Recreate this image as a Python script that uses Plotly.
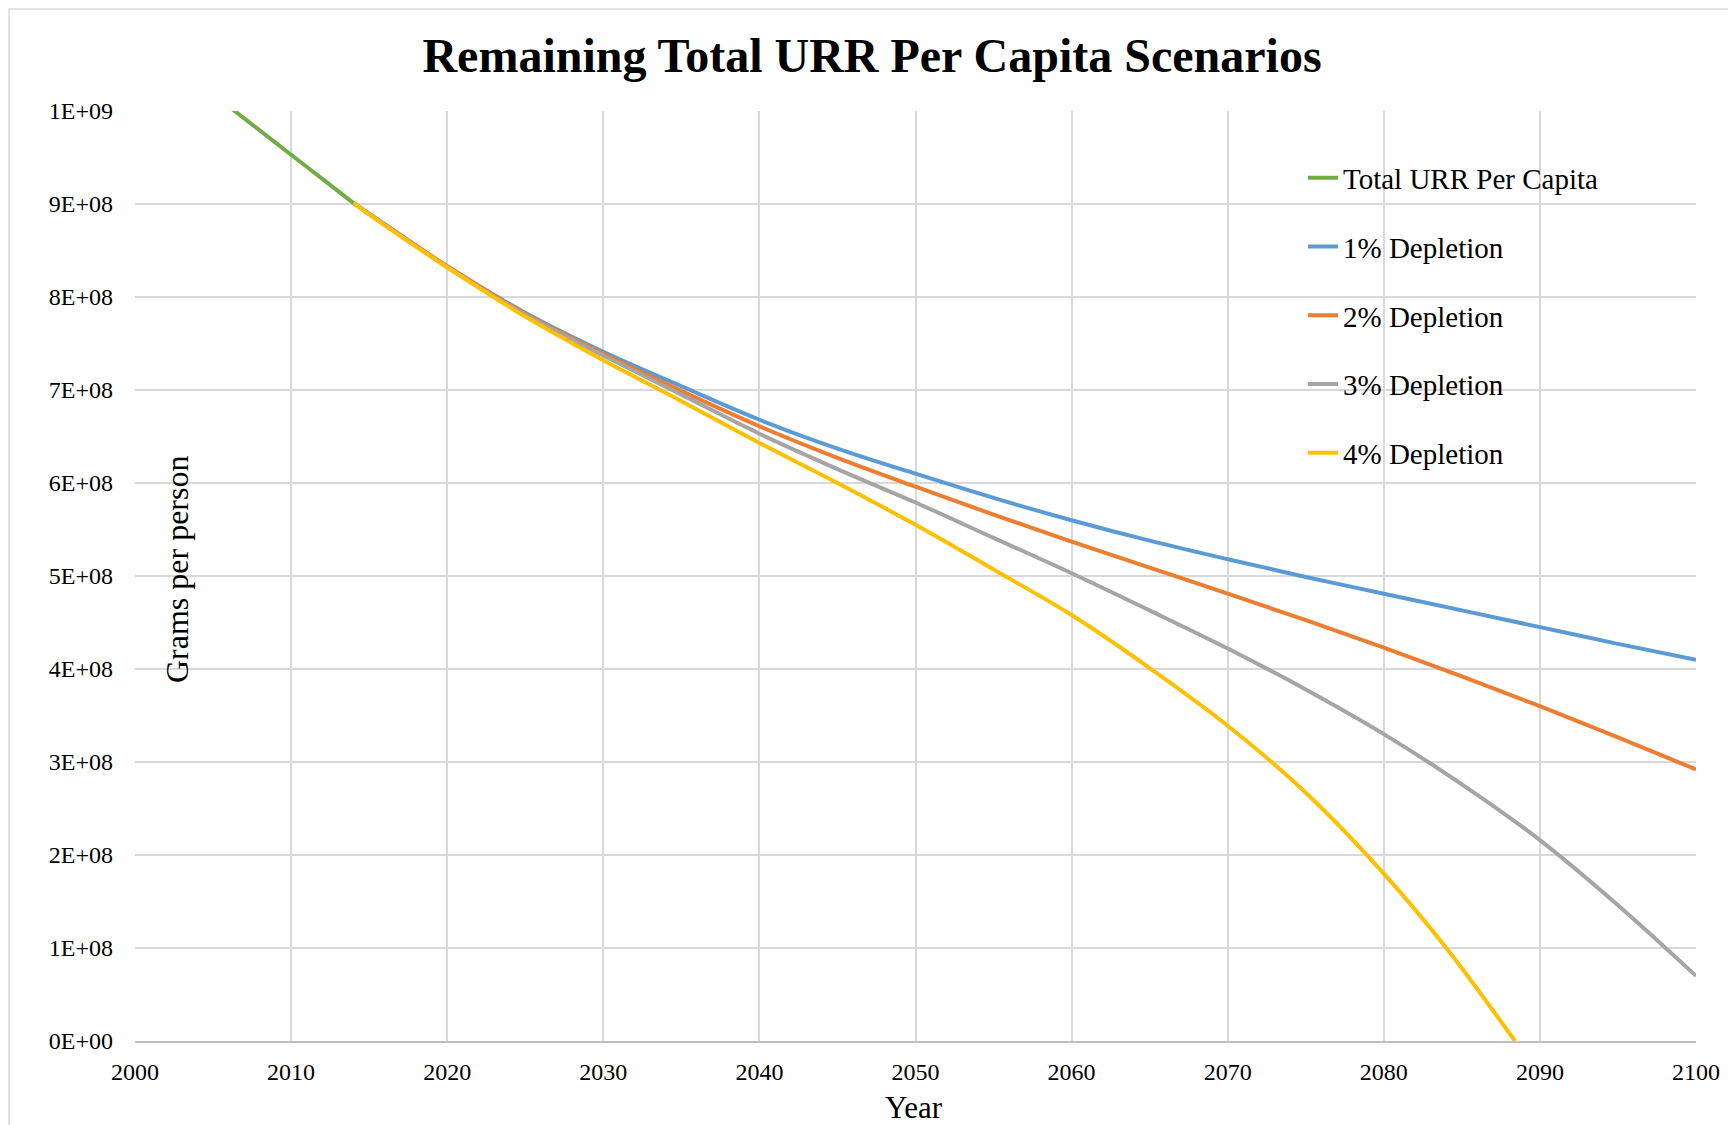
import plotly.graph_objects as go

# ---- data (values in grams per person) ----
green_years = [2006, 2008, 2010, 2012, 2014]
green_vals = [10.05e8, 9.79e8, 9.53e8, 9.27e8, 9.01e8]

scen_years = [2014, 2016, 2020, 2025, 2030, 2035, 2040, 2045, 2050, 2055, 2060,
              2065, 2070, 2075, 2080, 2085, 2090, 2095, 2100]
dep1 = [9.01e8, 8.78e8, 8.33e8, 7.83e8, 7.41e8, 7.04e8, 6.68e8, 6.37e8, 6.10e8, 5.84e8, 5.60e8,
        5.38e8, 5.18e8, 4.99e8, 4.81e8, 4.63e8, 4.45e8, 4.27e8, 4.10e8]
dep2 = [9.01e8, 8.78e8, 8.33e8, 7.82e8, 7.39e8, 6.99e8, 6.61e8, 6.27e8, 5.96e8, 5.66e8, 5.37e8,
        5.09e8, 4.81e8, 4.525e8, 4.23e8, 3.92e8, 3.60e8, 3.265e8, 2.92e8]
dep3 = [9.01e8, 8.78e8, 8.32e8, 7.81e8, 7.37e8, 6.95e8, 6.53e8, 6.15e8, 5.79e8, 5.41e8, 5.03e8,
        4.63e8, 4.22e8, 3.78e8, 3.30e8, 2.76e8, 2.16e8, 1.46e8, 0.70e8]
dep4_years = [2014, 2016, 2020, 2025, 2030, 2035, 2040, 2045, 2050, 2055, 2060,
              2065, 2070, 2075, 2080, 2084, 2088.4]
dep4 = [9.01e8, 8.77e8, 8.32e8, 7.79e8, 7.32e8, 6.88e8, 6.43e8, 6.00e8, 5.55e8, 5.07e8, 4.58e8,
        4.01e8, 3.39e8, 2.67e8, 1.80e8, 1.00e8, 0.0]

series_names = ["Total URR Per Capita", "1% Depletion", "2% Depletion",
                "3% Depletion", "4% Depletion"]
series_colors = ["#70AD47", "#5B9BD5", "#ED7D31", "#A5A5A5", "#FFC000"]

y_tickvals = [0, 1e8, 2e8, 3e8, 4e8, 5e8, 6e8, 7e8, 8e8, 9e8, 1e9]
y_ticktext = ["0E+00", "1E+08", "2E+08", "3E+08", "4E+08", "5E+08",
              "6E+08", "7E+08", "8E+08", "9E+08", "1E+09"]
x_tickvals = list(range(2000, 2101, 10))

FONT = "Liberation Serif, Times New Roman, serif"

fig = go.Figure()
xs = [green_years, scen_years, scen_years, scen_years, dep4_years]
ys = [green_vals, dep1, dep2, dep3, dep4]
for i in range(5):
    fig.add_trace(go.Scatter(
        x=xs[i], y=ys[i], mode="lines", name=series_names[i],
        line=dict(color=series_colors[i], width=4, shape="spline", smoothing=1.0),
        legendgroup=f"g{i}",
    ))

# the page body adds an 8px margin, so the figure is 8px smaller
W, H = 1728, 1117
L, R, T, B = 127, 40, 103, 84
pw, ph = W - L - R, H - T - B

def px(x):
    return (x - L) / pw

def py(y):
    return (H - B - y) / ph

fig.update_layout(
    width=W, height=H,
    margin=dict(l=L, r=R, t=T, b=B, autoexpand=False),
    paper_bgcolor="white", plot_bgcolor="white",
    font=dict(family=FONT, color="black", size=24),
    title=dict(text="<b>Remaining Total URR Per Capita Scenarios</b>",
               font=dict(family=FONT, size=48, color="black"),
               x=864 / W, xanchor="center", xref="container",
               y=1 - 47 / H, yanchor="middle", yref="container"),
    showlegend=True,
    legend=dict(x=px(1295), xanchor="left", y=py(144.5), yanchor="top",
                font=dict(family=FONT, size=29, color="black"),
                bgcolor="rgba(0,0,0,0)", borderwidth=0,
                traceorder="grouped", tracegroupgap=28),
    xaxis=dict(range=[2000, 2100], tickvals=x_tickvals,
               showgrid=True, gridcolor="#D9D9D9", gridwidth=2,
               showline=True, linecolor="#BFBFBF", linewidth=2,
               zeroline=False, ticks="", ticklabelstandoff=8,
               tickfont=dict(family=FONT, size=24, color="black")),
    yaxis=dict(range=[0, 1e9], tickvals=y_tickvals, ticktext=y_ticktext,
               showgrid=True, gridcolor="#D9D9D9", gridwidth=2,
               showline=False, zeroline=False, ticks="", ticklabelstandoff=21,
               tickfont=dict(family=FONT, size=24, color="black")),
    annotations=[
        dict(text="Grams per person", x=px(169), y=py(562), xref="paper", yref="paper",
             textangle=-90, showarrow=False, xanchor="center", yanchor="middle",
             font=dict(family=FONT, size=32, color="black")),
        dict(text="Year", x=px(906), y=py(1099), xref="paper", yref="paper",
             showarrow=False, xanchor="center", yanchor="middle",
             font=dict(family=FONT, size=31, color="black")),
    ],
    shapes=[
        dict(type="rect", xref="paper", yref="paper",
             x0=px(1), x1=px(1725), y0=py(1130), y1=py(1),
             line=dict(color="#D9D9D9", width=1.5), fillcolor="rgba(0,0,0,0)",
             layer="below"),
    ],
)

fig.write_html("out.html")
